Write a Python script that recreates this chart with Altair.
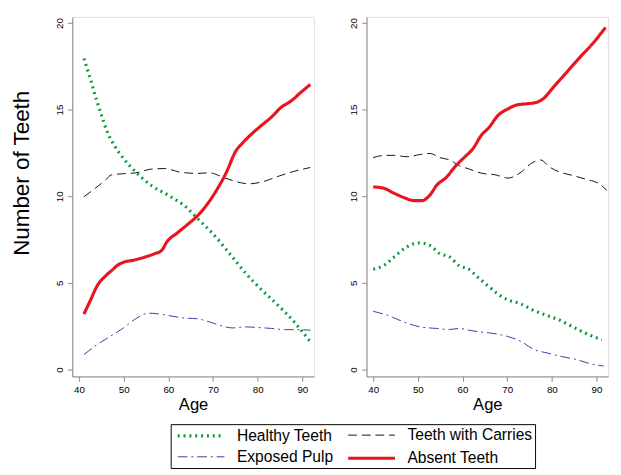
import altair as alt
import pandas as pd

# ---- data ----
SERIES = ["Healthy Teeth", "Teeth with Carries", "Exposed Pulp", "Absent Teeth"]

# Left panel
l_healthy_age = [41.1, 42.5, 44.0, 45.4, 46.2, 48.0, 49.9, 52.7, 56.3, 59.9, 64.3, 66.4, 70.1, 73.7, 77.3, 80.9, 84.6, 88.2, 91.8]
l_healthy_val = [17.95, 16.8, 15.5, 14.4, 13.8, 12.9, 12.2, 11.4, 10.6, 10.07, 9.3, 8.75, 7.8, 6.7, 5.56, 4.6, 3.7, 2.74, 1.6]

l_carries_age = [41.1, 46.2, 47.2, 49.9, 52.7, 56.3, 59.2, 62.8, 66.4, 69.3, 72.2, 75.1, 78.0, 80.9, 84.6, 88.2, 91.8]
l_carries_val = [9.97, 11.0, 11.23, 11.3, 11.35, 11.57, 11.6, 11.38, 11.32, 11.35, 11.1, 10.85, 10.72, 10.82, 11.15, 11.44, 11.66]

l_pulp_age = [41.1, 44.0, 46.9, 49.8, 52.7, 55.6, 57.8, 59.9, 63.6, 66.4, 69.3, 72.2, 74.4, 77.3, 80.2, 83.1, 86.0, 88.9, 91.8]
l_pulp_val = [0.86, 1.43, 1.9, 2.37, 2.93, 3.25, 3.21, 3.12, 2.97, 2.93, 2.74, 2.5, 2.4, 2.46, 2.42, 2.37, 2.3, 2.3, 2.27]

l_absent_age = [41.1, 42.5, 44.0, 46.2, 47.6, 48.7, 50.1, 52.0, 54.9, 57.0, 58.5, 59.6, 62.1, 64.3, 66.4, 68.6, 70.8, 73.0, 75.1, 76.6, 78.8, 80.9, 83.1, 85.3, 87.5, 89.6, 91.8]
l_absent_val = [3.2, 3.96, 4.8, 5.46, 5.78, 6.03, 6.2, 6.3, 6.5, 6.69, 6.87, 7.34, 7.9, 8.37, 8.84, 9.5, 10.35, 11.38, 12.6, 13.07, 13.63, 14.1, 14.57, 15.14, 15.5, 15.98, 16.45]

# Right panel
r_healthy_age = [40.0, 42.5, 44.7, 46.9, 49.1, 50.5, 52.7, 54.9, 57.1, 59.3, 61.4, 63.6, 65.8, 68.0, 70.2, 73.1, 76.0, 78.9, 81.8, 84.7, 87.6, 91.2]
r_healthy_val = [5.79, 6.03, 6.5, 6.97, 7.26, 7.31, 7.16, 6.69, 6.5, 5.98, 5.79, 5.28, 4.81, 4.34, 4.02, 3.78, 3.4, 3.12, 2.84, 2.46, 2.09, 1.71]

r_carries_age = [40.0, 42.5, 44.7, 47.6, 50.5, 52.7, 54.9, 57.1, 59.3, 61.4, 64.3, 67.3, 70.2, 73.1, 75.2, 77.4, 79.6, 81.8, 84.7, 87.6, 90.5, 92.3]
r_carries_val = [12.23, 12.36, 12.36, 12.28, 12.41, 12.47, 12.23, 12.1, 11.76, 11.58, 11.33, 11.24, 11.05, 11.39, 11.86, 12.1, 11.67, 11.39, 11.2, 10.98, 10.73, 10.35]

r_pulp_age = [40.0, 43.3, 46.9, 50.5, 54.2, 57.1, 59.3, 61.4, 63.6, 65.8, 70.2, 73.1, 76.0, 78.9, 81.8, 85.4, 89.1, 91.6]
r_pulp_val = [3.36, 3.12, 2.74, 2.46, 2.37, 2.31, 2.37, 2.27, 2.18, 2.12, 1.9, 1.62, 1.15, 0.96, 0.77, 0.58, 0.3, 0.2]

r_absent_age = [40.0, 42.5, 44.7, 46.9, 49.1, 50.9, 52.7, 54.2, 56.4, 58.5, 60.7, 62.2, 64.3, 65.8, 68.0, 70.2, 72.3, 74.5, 76.7, 78.2, 80.3, 83.2, 86.1, 89.1, 92.0]
r_absent_val = [10.54, 10.45, 10.17, 9.92, 9.75, 9.75, 10.07, 10.63, 11.1, 11.76, 12.32, 12.7, 13.55, 13.93, 14.68, 15.05, 15.28, 15.34, 15.43, 15.66, 16.28, 17.12, 17.97, 18.8, 19.74]

X_TICKS = [40, 50, 60, 70, 80, 90]
Y_TICKS = [0, 5, 10, 15, 20]

rows = []
def add(panel, series, ages, vals):
    for a, v in zip(ages, vals):
        rows.append({"panel": panel, "series": series, "age": a, "value": v})

add("L", "Healthy Teeth", l_healthy_age, l_healthy_val)
add("L", "Teeth with Carries", l_carries_age, l_carries_val)
add("L", "Exposed Pulp", l_pulp_age, l_pulp_val)
add("L", "Absent Teeth", l_absent_age, l_absent_val)
add("R", "Healthy Teeth", r_healthy_age, r_healthy_val)
add("R", "Teeth with Carries", r_carries_age, r_carries_val)
add("R", "Exposed Pulp", r_pulp_age, r_pulp_val)
add("R", "Absent Teeth", r_absent_age, r_absent_val)
df = pd.DataFrame(rows)

FONT = "Liberation Sans"
AXIS_GREY = "#7f7f7f"

color_scale = alt.Scale(domain=SERIES, range=["#0a9a3c", "#111111", "#3a3aa8", "#e8141e"])
dash_scale = alt.Scale(domain=SERIES, range=[[2, 4], [9, 5], [10, 4, 2, 4], [1, 0]])
width_scale = alt.Scale(type="ordinal", domain=SERIES, range=[3.2, 1, 1, 3.2])

legend = alt.Legend(
    title=None, orient="none", legendX=101, legendY=418, columns=2, direction="horizontal",
    symbolType="M-0.6,0H5.4", symbolSize=256, labelFontSize=16, labelFont=FONT,
    labelColor="#000000", labelOffset=46, columnPadding=8, rowPadding=5,
    strokeColor="#000000", padding=2, labelLimit=300,
)

def panel(p, show_title):
    yaxis = alt.Axis(
        values=Y_TICKS, grid=False, labelAngle=270, labelAlign="center",
        labelBaseline="bottom", labelPadding=3,
        title="Number of Teeth" if show_title else None,
        titleFontSize=23, titleFont=FONT, titleFontWeight="normal", titleColor="#000000",
        titleX=-40, titleY=160, titleAngle=270, titleAlign="center",
    )
    xaxis = alt.Axis(values=X_TICKS, grid=False, labelAngle=0, title="Age",
                     titleFontSize=17, titleFont=FONT, titleFontWeight="normal",
                     titleColor="#000000", titlePadding=3, labelPadding=3)
    return alt.Chart(df).transform_filter(alt.datum.panel == p).mark_line(
        interpolate="monotone", strokeCap="butt"
    ).encode(
        x=alt.X("age:Q", scale=alt.Scale(domain=[38.5, 92.6], nice=False, zero=False), axis=xaxis),
        y=alt.Y("value:Q", scale=alt.Scale(domain=[-0.4, 20.35], nice=False), axis=yaxis),
        color=alt.Color("series:N", scale=color_scale, sort=SERIES, legend=legend),
        strokeDash=alt.StrokeDash("series:N", scale=dash_scale, sort=SERIES, legend=legend),
        strokeWidth=alt.StrokeWidth("series:N", scale=width_scale, sort=SERIES, legend=legend),
        order=alt.Order("age:Q"),
    ).properties(width=248, height=369)

chart = alt.hconcat(panel("L", True), panel("R", False), spacing=31).properties(
    padding={"left": 2, "top": 2, "right": 0, "bottom": 0}
).configure_view(stroke=None).configure_axis(
    domainColor=AXIS_GREY, domainWidth=1.5, tickColor=AXIS_GREY, tickWidth=1.2,
    tickSize=5, labelFont=FONT, labelFontSize=11, labelColor="#333333",
).configure(background="white")

chart.save("out.html", embed_options={"renderer": "svg", "actions": False})
